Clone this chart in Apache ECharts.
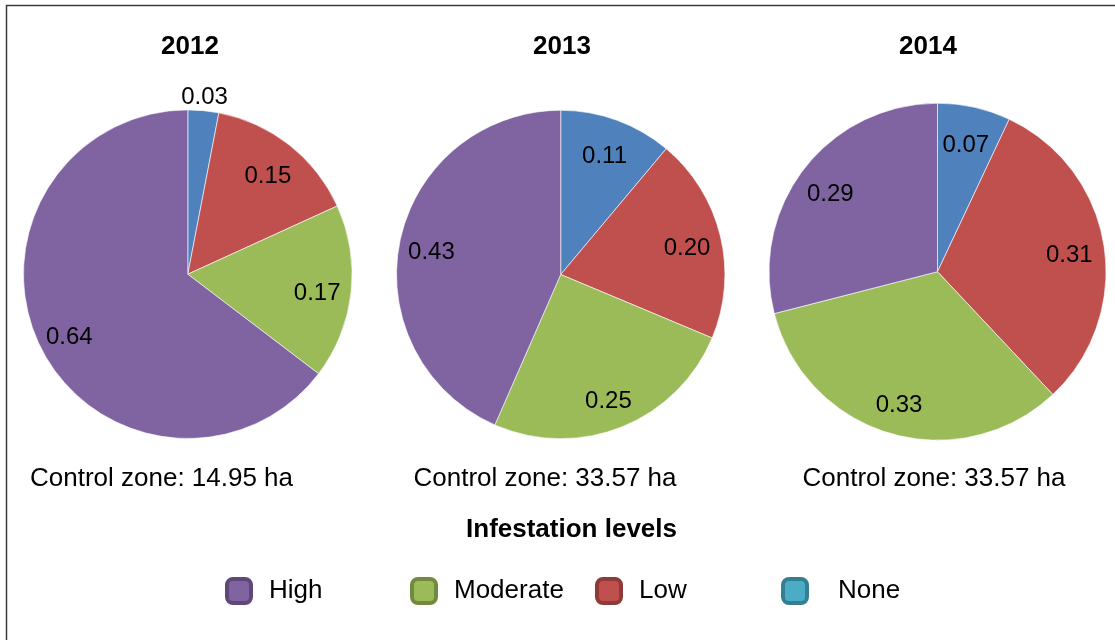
<!DOCTYPE html>
<html>
<head>
<meta charset="utf-8">
<script src="https://cdn.jsdelivr.net/npm/echarts@6/dist/echarts.min.js"></script>
<style>
html,body{margin:0;padding:0;background:#fff;}
#chart{width:1115px;height:640px;}
</style>
</head>
<body>
<div id="chart"></div>
<script>
// ---- data ----
const categories = ['None', 'Low', 'Moderate', 'High'];
const years = ['2012', '2013', '2014'];
const values2012 = [0.03, 0.15, 0.17, 0.64];
const values2013 = [0.11, 0.20, 0.25, 0.43];
const values2014 = [0.07, 0.31, 0.33, 0.29];
const zoneAreas = ['14.95', '33.57', '33.57'];
const legendOrder = ['High', 'Moderate', 'Low', 'None'];
const legendTitle = 'Infestation levels';

// ---- styles ----
const FONT = '"Liberation Sans", Arial, sans-serif';
const sliceColors = { None: '#4F81BD', Low: '#C0504D', Moderate: '#9BBB59', High: '#8064A2' };
const legendFill = { High: '#8064A2', Moderate: '#9BBB59', Low: '#C0504D', None: '#4BACC6' };
const legendBorder = { High: '#5D4878', Moderate: '#72893F', Low: '#8E3A38', None: '#367F92' };

const pies = [
  { vals: values2012, center: [187.8, 274.2], r: 164.3, titleX: 190, zoneX: 161.5 },
  { vals: values2013, center: [560.7, 274.5], r: 164.2, titleX: 562, zoneX: 545 },
  { vals: values2014, center: [937.5, 271.7], r: 168.5, titleX: 928, zoneX: 934 }
];

const series = [];
pies.forEach((p, i) => {
  const data = categories.map((c, k) => ({
    name: c, value: p.vals[k], itemStyle: { color: sliceColors[c] }
  }));
  series.push({
    type: 'pie', name: years[i], center: p.center, radius: [0, p.r],
    startAngle: 90, clockwise: true, avoidLabelOverlap: false, silent: true,
    itemStyle: { borderColor: '#ffffff', borderWidth: 0.6 },
    label: { show: false }, labelLine: { show: false },
    data: data
  });
  // label layer
  const labelData = categories.map((c, k) => {
    const d = { name: c, value: p.vals[k] };
    if (i === 0 && k === 0) {
      d.label = { position: 'outside', distanceToLabelLine: -23 };
      d.labelLine = { show: false, length: 18, length2: 0 };
    }
    return d;
  });
  series.push({
    type: 'pie', name: years[i] + ' labels', center: p.center,
    radius: [p.r * 0.56, p.r], startAngle: 90, clockwise: true,
    avoidLabelOverlap: false, silent: true, z: 3,
    itemStyle: { color: 'rgba(0,0,0,0)', borderWidth: 0 },
    emphasis: { disabled: true },
    label: {
      show: true, position: 'inside', color: '#000',
      fontFamily: FONT, fontSize: 24,
      formatter: (pr) => pr.value.toFixed(2)
    },
    labelLayout: { dx: -1, dy: 5 },
    labelLine: { show: false },
    data: labelData
  });
});

const graphic = [
  { type: 'rect', silent: true, z: -10,
    shape: { x: 6.5, y: 5.5, width: 1120, height: 650 },
    style: { fill: 'none', stroke: '#3c3c3c', lineWidth: 1.5 } }
];
pies.forEach((p, i) => {
  graphic.push({ type: 'text', x: p.titleX, y: 47,
    style: { text: years[i], fontFamily: FONT, fontSize: 26, fontWeight: 'bold',
      fill: '#000', align: 'center', verticalAlign: 'middle' } });
  graphic.push({ type: 'text', x: p.zoneX, y: 479,
    style: { text: 'Control zone: ' + zoneAreas[i] + ' ha', fontFamily: FONT, fontSize: 26,
      fill: '#000', align: 'center', verticalAlign: 'middle' } });
});
graphic.push({ type: 'text', x: 571.5, y: 530,
  style: { text: legendTitle, fontFamily: FONT, fontSize: 26, fontWeight: 'bold',
    fill: '#000', align: 'center', verticalAlign: 'middle' } });

const legendLefts = [225, 410, 595, 781];
const legendPads = [13, 13, 13, 26];
const legends = legendOrder.map((name, i) => ({
  show: true, left: legendLefts[i], top: 577, padding: 0, orient: 'horizontal',
  icon: 'roundRect', itemWidth: 24, itemHeight: 24, selectedMode: false,
  itemStyle: { color: legendFill[name], borderColor: legendBorder[name], borderWidth: 4 },
  data: [{ name: name, itemStyle: { color: legendFill[name], borderColor: legendBorder[name], borderWidth: 4 } }],
  formatter: '{t|{name}}',
  textStyle: {
    color: '#000', fontFamily: FONT, fontSize: 26,
    rich: { t: { color: '#000', fontFamily: FONT, fontSize: 26, padding: [0, 0, 0, legendPads[i]] } }
  }
}));

const chart = echarts.init(document.getElementById('chart'), null, { renderer: 'canvas' });
chart.setOption({
  backgroundColor: '#ffffff',
  animation: false,
  legend: legends,
  graphic: graphic,
  series: series
});
</script>
</body>
</html>
